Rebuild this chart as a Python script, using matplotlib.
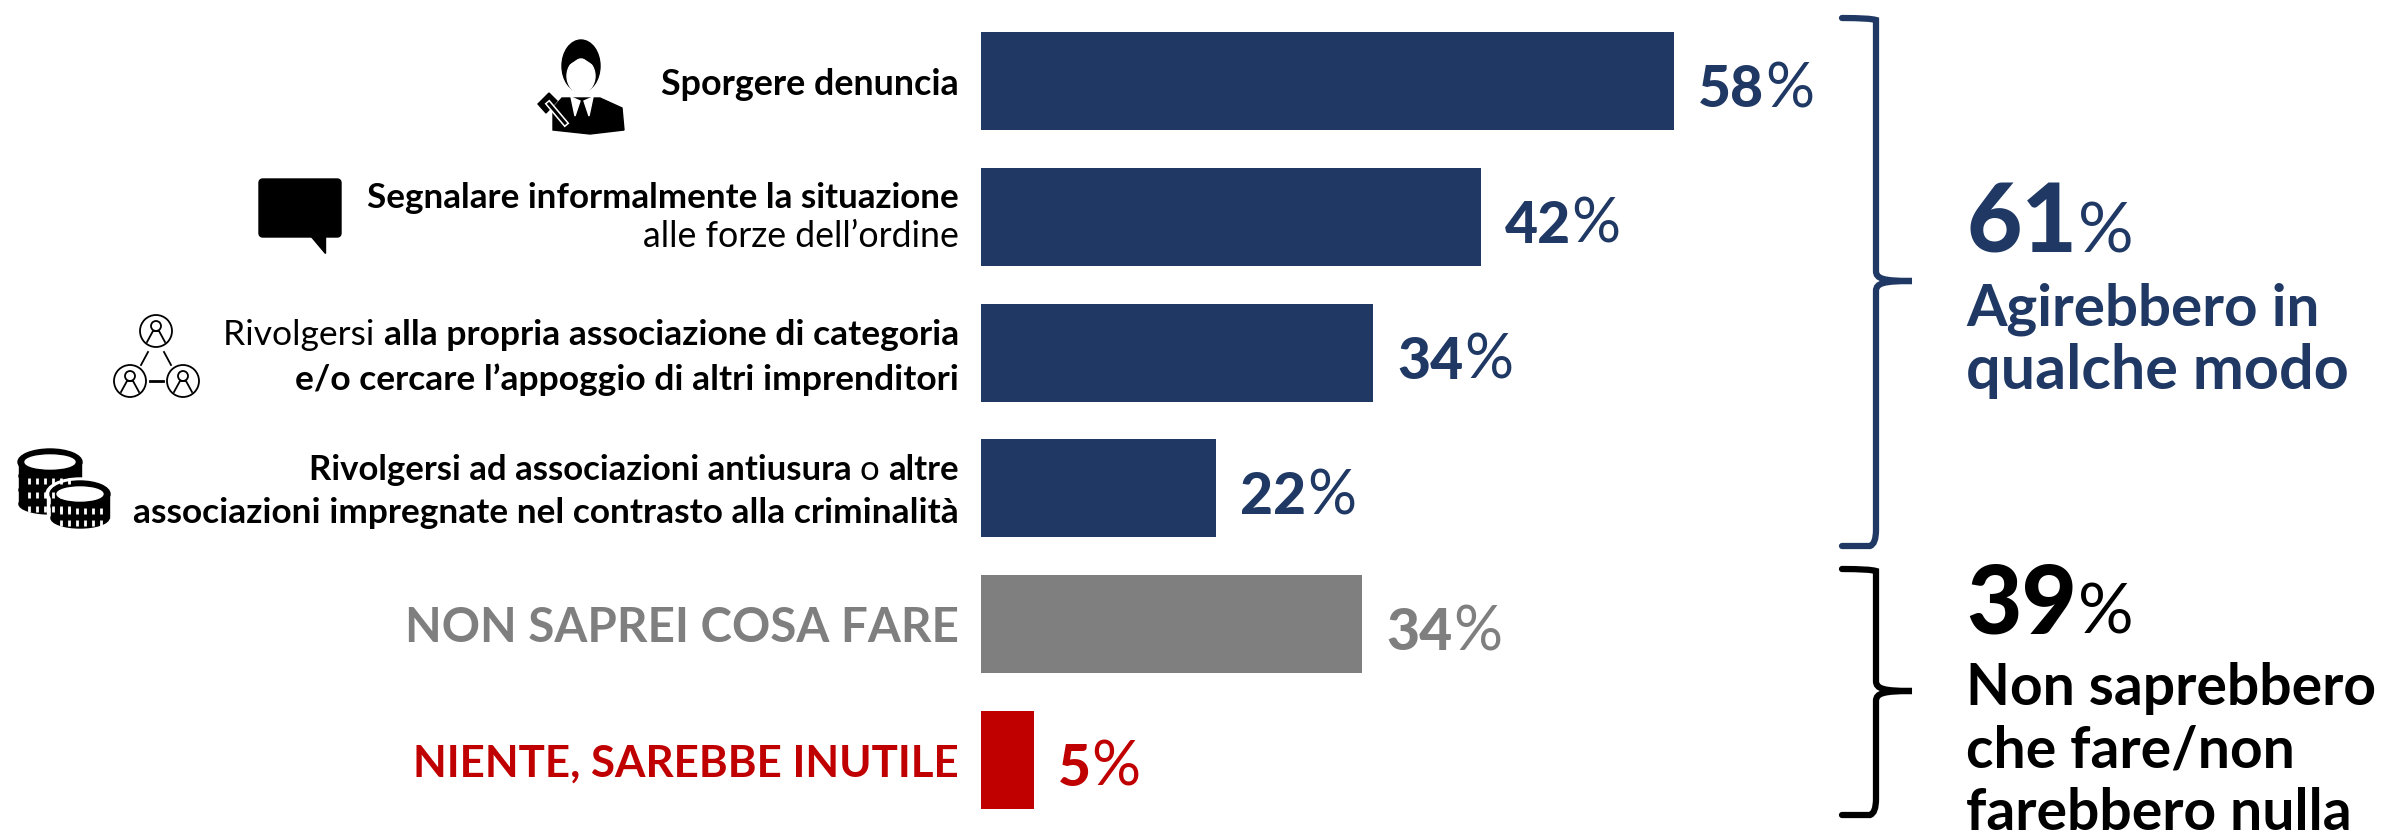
import matplotlib
matplotlib.use("Agg")
import matplotlib.pyplot as plt
from matplotlib.patches import Circle, Ellipse, Polygon, PathPatch, FancyBboxPatch, Rectangle
from matplotlib.path import Path

W, H = 2392, 833
FONT = "Lato"
NAVY = "#1F3864"
GREY = "#7F7F7F"
RED = "#C00000"

bar_lengths = [58, 41.8, 32.8, 19.7, 31.9, 4.4]
bar_labels = ["58%", "42%", "34%", "22%", "34%", "5%"]
bar_colors = [NAVY, NAVY, NAVY, NAVY, GREY, RED]
categories = [
    [[("Sporgere denuncia", "bold")]],
    [[("Segnalare informalmente la situazione", "bold")],
     [("alle forze dell\u2019ordine", "normal")]],
    [[("Rivolgersi ", "normal"), ("alla propria associazione di categoria", "bold")],
     [("e/o cercare l\u2019appoggio di altri imprenditori", "bold")]],
    [[("Rivolgersi ad associazioni antiusura ", "bold"), ("o ", "normal"), ("altre", "bold")],
     [("associazioni impregnate nel contrasto alla criminalit\u00e0", "bold")]],
]
big_labels = ["NON SAPREI COSA FARE", "NIENTE, SAREBBE INUTILE"]

fig = plt.figure(figsize=(W / 100, H / 100), dpi=100)

# bars
x0, px_per_pct = 981, 11.95
y0, step, bar_h = 81, 135.8, 98
ax = fig.add_axes([x0 / W, 0, 1 - x0 / W, 1])
ax.set_xlim(0, (W - x0) / px_per_pct)
ax.set_ylim((H - y0) / step, -y0 / step)
ax.barh(range(6), bar_lengths, height=bar_h / step, color=bar_colors)
ax.axis("off")

# overlay in pixels for text, braces and icons
ov = fig.add_axes([0, 0, 1, 1])
ov.set_xlim(0, W)
ov.set_ylim(H, 0)
ov.axis("off")
ov.patch.set_alpha(0)
renderer = fig.canvas.get_renderer()


def text_width(s, size, weight):
    t = ov.text(0, 0, s.replace(" ", "\u00a0"), fontsize=size, fontweight=weight, family=FONT)
    w = t.get_window_extent(renderer).width
    t.remove()
    return w


def rich_line(xr, y, runs, size, color="black"):
    x = xr
    for s, weight in reversed(runs):
        s2 = s.replace(" ", "\u00a0")
        w = text_width(s, size, weight)
        x -= w
        ov.text(x, y, s2, fontsize=size, fontweight=weight, family=FONT, color=color, va="baseline", ha="left")


def value_label(x, y, s, color, size=41, pct_size=44):
    num = s[:-1]
    t = ov.text(x, y, num, fontsize=size, fontweight="black", family=FONT, color=color, va="baseline")
    w = t.get_window_extent(renderer).width
    ov.text(x + w + 1, y, "%", fontsize=pct_size, fontweight="normal", family=FONT, color=color, va="baseline")


# left labels
baselines = [[95], [208, 247], [345, 390], [480, 523]]
line_sizes = [[25.8], [25.2, 25.7], [25.5, 25.5], [25, 25.4]]
for lines, ys, sizes in zip(categories, baselines, line_sizes):
    for runs, y, size in zip(lines, ys, sizes):
        rich_line(959, y, runs, size)
rich_line(959, 642, [(big_labels[0], "bold")], 34.2, GREY)
rich_line(959, 777, [(big_labels[1], "bold")], 31.6, RED)

# value labels
for i, s in enumerate(bar_labels):
    c = bar_colors[i]
    xe = x0 + bar_lengths[i] * px_per_pct
    value_label(xe + 24, y0 + step * i + 26, s, c)


# braces
def brace(top, tip, bot, color):
    xs, xv, xt = 1842, 1876, 1912
    verts = [(xs, top), (xv - 6, top), (xv, top + 2), (xv, top + 16),
             (xv, tip - 10), (xv, tip - 2), (xv + 8, tip), (xt, tip),
             (xv + 8, tip), (xv, tip + 2), (xv, tip + 10),
             (xv, bot - 16), (xv, bot - 2), (xv - 6, bot), (xs, bot)]
    codes = [Path.MOVETO, Path.CURVE3, Path.CURVE3, Path.LINETO,
             Path.LINETO, Path.CURVE4, Path.CURVE4, Path.CURVE4,
             Path.CURVE4, Path.CURVE4, Path.CURVE4,
             Path.LINETO, Path.CURVE3, Path.CURVE3, Path.LINETO]
    ov.add_patch(PathPatch(Path(verts, codes), fill=False, ec=color, lw=4.5, capstyle="round"))


brace(18, 281, 546, NAVY)
brace(569, 691, 815, "black")

# right summaries
value_label(1966, 252, "61%", NAVY, size=69, pct_size=50)
ov.text(1966, 325, "Agirebbero in", fontsize=42, fontweight="bold", family=FONT, color=NAVY, va="baseline")
ov.text(1966, 389, "qualche modo", fontsize=44, fontweight="bold", family=FONT, color=NAVY, va="baseline")
value_label(1966, 633, "39%", "black", size=69, pct_size=50)
ov.text(1966, 705, "Non saprebbero", fontsize=41, fontweight="bold", family=FONT, color="black", va="baseline")
ov.text(1966, 768, "che fare/non", fontsize=41, fontweight="bold", family=FONT, color="black", va="baseline")
ov.text(1966, 830, "farebbero nulla", fontsize=41, fontweight="bold", family=FONT, color="black", va="baseline")

# icon: person with gavel
ov.add_patch(Ellipse((581, 66), 38, 52, color="black"))
ov.add_patch(Ellipse((581, 76), 28, 34, color="white"))
ov.add_patch(Polygon([(566, 66), (581, 56), (596, 66), (596, 52), (566, 52)], color="black"))
ov.add_patch(Polygon([(553, 130), (553, 108), (562, 98), (600, 98), (622, 108), (624, 130), (590, 134)], color="black"))
ov.add_patch(Polygon([(571, 97), (580, 101), (575, 116)], color="white"))
ov.add_patch(Polygon([(593, 97), (584, 101), (589, 116)], color="white"))
ov.add_patch(Polygon([(538, 104), (549, 93), (557, 101), (546, 113)], color="black"))
ov.plot([549, 565], [104, 123], color="white", lw=4.5)
ov.plot([549, 565], [104, 123], color="black", lw=2.2)

# icon: speech bubble
ov.add_patch(FancyBboxPatch((261, 181), 78, 54, boxstyle="round,pad=2,rounding_size=4", color="black"))
ov.add_patch(Polygon([(309, 234), (325, 234), (325, 253)], color="black"))


# icon: network of three people
def person_node(cx, cy, r=16):
    ov.add_patch(Circle((cx, cy), r, fill=False, ec="black", lw=1.3))
    ov.add_patch(Circle((cx, cy - 5), 5, fill=False, ec="black", lw=1.3))
    ov.plot([cx - 9, cx - 3, cx + 3, cx + 9], [cy + 11, cy, cy, cy + 11], color="black", lw=1.3)


person_node(156, 331)
person_node(130, 381)
person_node(183, 381)
ov.plot([148, 141], [352, 365], color="black", lw=1.3)
ov.plot([164, 171], [352, 365], color="black", lw=1.3)
ov.plot([150, 163], [381, 381], color="black", lw=2)


# icon: coin stacks
def coin_stack(cx, top, n, w=60, h=20, gap=14, halo=False):
    if halo:
        ov.add_patch(Ellipse((cx, top + gap * n), w + 8, h + 8, color="white"))
        ov.add_patch(Rectangle((cx - w / 2 - 4, top), w + 8, gap * n, color="white"))
        ov.add_patch(Ellipse((cx, top), w + 10, h + 12, color="white"))
    for i in range(n - 1, -1, -1):
        y = top + gap * i
        ov.add_patch(Rectangle((cx - w / 2, y), w, gap, color="black"))
        ov.add_patch(Ellipse((cx, y + gap), w, h, color="black"))
        ov.plot([cx - w / 2 + 10 + k * 8 for k in range(6)], [y + gap + 5] * 6, ls="none",
                marker="|", ms=4, mew=2, color="white")
    ov.add_patch(Ellipse((cx, top), w + 2, h + 6, color="black"))
    ov.add_patch(Ellipse((cx, top), w - 12, h - 6, color="white"))


coin_stack(50, 462, 3, w=62)
coin_stack(80, 494, 2, w=58, gap=12, halo=True)

fig.savefig("out.png", dpi=100)
